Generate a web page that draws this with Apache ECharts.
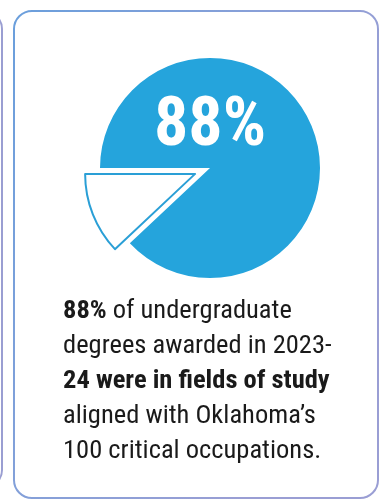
<!DOCTYPE html>
<html>
<head>
<meta charset="utf-8">
<script src="https://cdn.jsdelivr.net/npm/echarts@6/dist/echarts.min.js"></script>
<style>
  html, body { margin: 0; padding: 0; background: #fff; }
  #chart { width: 380px; height: 503px; }
</style>
</head>
<body>
<div id="chart"></div>
<script>
// share of degrees in critical-occupation fields
const categories = ['Critical occupations', 'Other']
const values = [88, 12]
const headline = '88%'

const chart = echarts.init(document.getElementById('chart'))
const blue = '#25a4dc'
const font = "'Liberation Sans Narrow', 'Arial Narrow', 'Roboto Condensed', 'Liberation Sans', sans-serif"

const option = {
  animation: false,
  graphic: [
    // edge of the neighbouring card
    {
      type: 'rect',
      shape: { x: -360, y: 11, width: 362, height: 477, r: 18 },
      style: { fill: 'none', stroke: '#9a9ed2', lineWidth: 2 }
    },
    // card border
    {
      type: 'rect',
      shape: { x: 14, y: 11, width: 364, height: 487, r: 18 },
      style: {
        fill: 'none',
        lineWidth: 2,
        stroke: new echarts.graphic.LinearGradient(0, 0, 1, 0.3, [
          { offset: 0, color: '#6a9fdc' },
          { offset: 0.6, color: '#8aa0d8' },
          { offset: 1, color: '#9a9ed4' }
        ])
      }
    },
    {
      type: 'text',
      z: 10,
      style: {
        x: 210, y: 128,
        text: headline,
        align: 'center', verticalAlign: 'middle',
        fill: '#fff',
        font: 'bold 68px ' + font
      }
    },
    {
      type: 'text',
      style: {
        x: 63, y: 294,
        text: '{b|88%}{n| of undergraduate}\n{n|degrees awarded in 2023-}\n{b|24 were in fields of study}\n{n|aligned with Oklahoma\u2019s}\n{n|100 critical occupations.}',
        rich: {
          b: { fontFamily: font, fontSize: 26.5, fontWeight: 'bold', fill: '#1a1a1a', lineHeight: 35 },
          n: { fontFamily: font, fontSize: 26.5, fill: '#1a1a1a', lineHeight: 35 }
        }
      }
    }
  ],
  series: [
    {
      type: 'pie',
      center: [210, 168],
      radius: 110,
      startAngle: 180,
      selectedMode: 'single',
      selectedOffset: 16,
      label: { show: false },
      labelLine: { show: false },
      emphasis: { disabled: true },
      data: [
        { name: categories[0], value: values[0], itemStyle: { color: blue } },
        {
          name: categories[1], value: values[1], selected: true,
          itemStyle: { color: '#fff', borderColor: '#2a9fd6', borderWidth: 2 }
        }
      ]
    }
  ]
}
chart.setOption(option)
</script>
</body>
</html>
